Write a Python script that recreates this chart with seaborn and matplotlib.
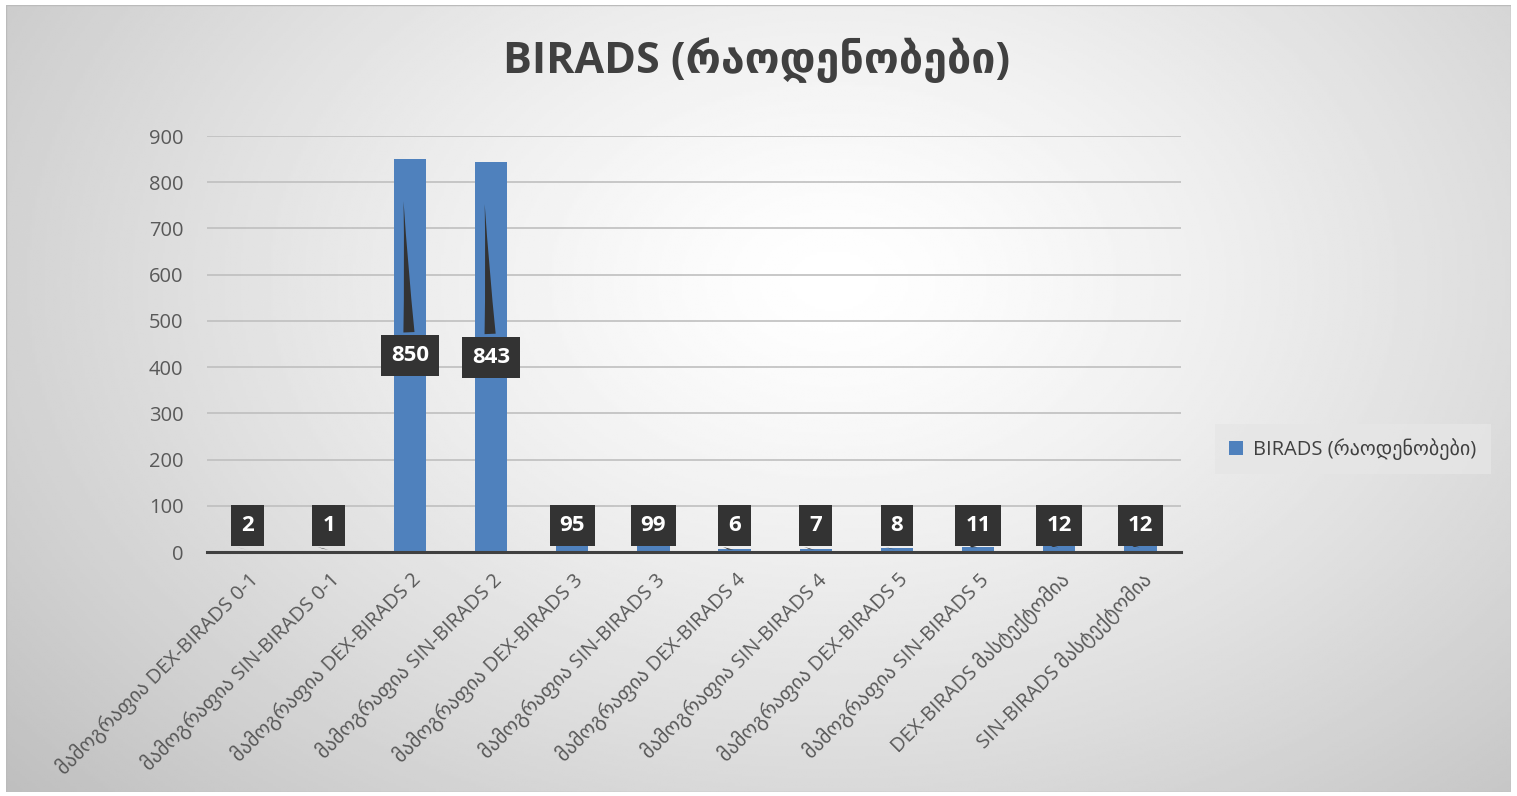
import numpy as np
import pandas as pd
import seaborn as sns
import matplotlib.pyplot as plt
from matplotlib.patches import Rectangle

# data
categories = [
    "მამოგრაფია DEX-BIRADS 0-1",
    "მამოგრაფია SIN-BIRADS 0-1",
    "მამოგრაფია DEX-BIRADS 2",
    "მამოგრაფია SIN-BIRADS 2",
    "მამოგრაფია DEX-BIRADS 3",
    "მამოგრაფია SIN-BIRADS 3",
    "მამოგრაფია DEX-BIRADS 4",
    "მამოგრაფია SIN-BIRADS 4",
    "მამოგრაფია DEX-BIRADS 5",
    "მამოგრაფია SIN-BIRADS 5",
    "DEX-BIRADS მასტექტომია",
    "SIN-BIRADS მასტექტომია",
]
counts = [2, 1, 850, 843, 95, 99, 6, 7, 8, 11, 12, 12]
series_name = "BIRADS (რაოდენობები)"
y_ticks = [0, 100, 200, 300, 400, 500, 600, 700, 800, 900]

sns.set_style("white")
plt.rcParams['font.family'] = ['Open Sans', 'DejaVu Sans']

W, H = 1517, 796
fig = plt.figure(figsize=(W / 100, H / 100), dpi=100)
fig.patch.set_facecolor('white')

# radial gradient background inside a thin frame
bg = fig.add_axes([6 / W, 4 / H, 1 - 12 / W, 1 - 9 / H], zorder=0)
gx, gy = np.meshgrid(np.linspace(0, 1, 600), np.linspace(0, 1, 320))
r = np.sqrt(((gx - 0.55) / 0.75) ** 2 + ((gy - 0.35) / 1.0) ** 2)
shade = 1 - 0.26 * np.clip(r, 0, 1.0) ** 1.3
bg.imshow(shade, cmap='gray', vmin=0, vmax=1, aspect='auto', extent=[0, 1, 1, 0])
bg.set_axis_off()
bg.add_patch(Rectangle((0, 0), 1, 1, transform=bg.transAxes, fill=False,
                       edgecolor='#BBBBBB', lw=1))

ax = fig.add_axes([207 / W, (H - 552) / H, 974 / W, 416 / H], zorder=1)
ax.patch.set_alpha(0)

df = pd.DataFrame({'category': categories, 'count': counts})
sns.barplot(data=df, x='category', y='count', color='#4F81BD', width=0.4,
            saturation=1, ax=ax, zorder=3, label=series_name, linewidth=0)

ax.set_xlim(-0.5, len(categories) - 0.5)
ax.set_ylim(0, 900)
ax.set_yticks(y_ticks)
ax.yaxis.grid(True, color='#BFBFBF', lw=1.2, zorder=0)
ax.set_axisbelow(True)
for s in ['top', 'right', 'left']:
    ax.spines[s].set_visible(False)
ax.spines['bottom'].set_color('#404040')
ax.spines['bottom'].set_linewidth(2.2)
ax.spines['bottom'].set_zorder(4)
ax.tick_params(axis='y', length=0, labelsize=14.5, labelcolor='#595959', pad=17)
ax.set_xticks(np.arange(len(categories)))
ax.set_xticklabels(categories, rotation=45, ha='right', rotation_mode='anchor',
                   fontsize=14.5, color='#595959')
ax.tick_params(axis='x', which='major', length=0, pad=12)
ax.set_xticks(np.arange(-0.5, len(categories)), minor=True)
ax.tick_params(axis='x', which='minor', length=6, width=2, color='#404040')
ax.set_xlabel('')
ax.set_ylabel('')

# callout data labels
for i, v in enumerate(counts):
    ly = max(v / 2, 58)
    ax.annotate(str(v), xy=(i - 0.08, v * 0.9), xytext=(i, ly),
                ha='center', va='center', fontsize=16, fontweight='bold',
                color='white', zorder=6,
                bbox=dict(boxstyle='square,pad=0.45', fc='#333333', ec='none'),
                arrowprops=dict(arrowstyle='wedge,tail_width=0.5,shrink_factor=0.4',
                                fc='#333333', ec='none'))

fig.text(757 / W, 1 - 60 / H, series_name, ha='center', va='center',
         fontsize=31, fontweight='bold', color='#404040')

leg = ax.legend(loc='center left', bbox_to_anchor=(1205 / W, 1 - 449 / H),
                bbox_transform=fig.transFigure, frameon=True, fontsize=14.5,
                handlelength=0.7, handleheight=0.7, handletextpad=0.5,
                borderpad=0.7, fancybox=False)
leg.get_frame().set_facecolor('#E6E6E6')
leg.get_frame().set_edgecolor('none')
leg.get_frame().set_alpha(0.8)
for t in leg.get_texts():
    t.set_color('#404040')

fig.savefig('out.png', dpi=100)
